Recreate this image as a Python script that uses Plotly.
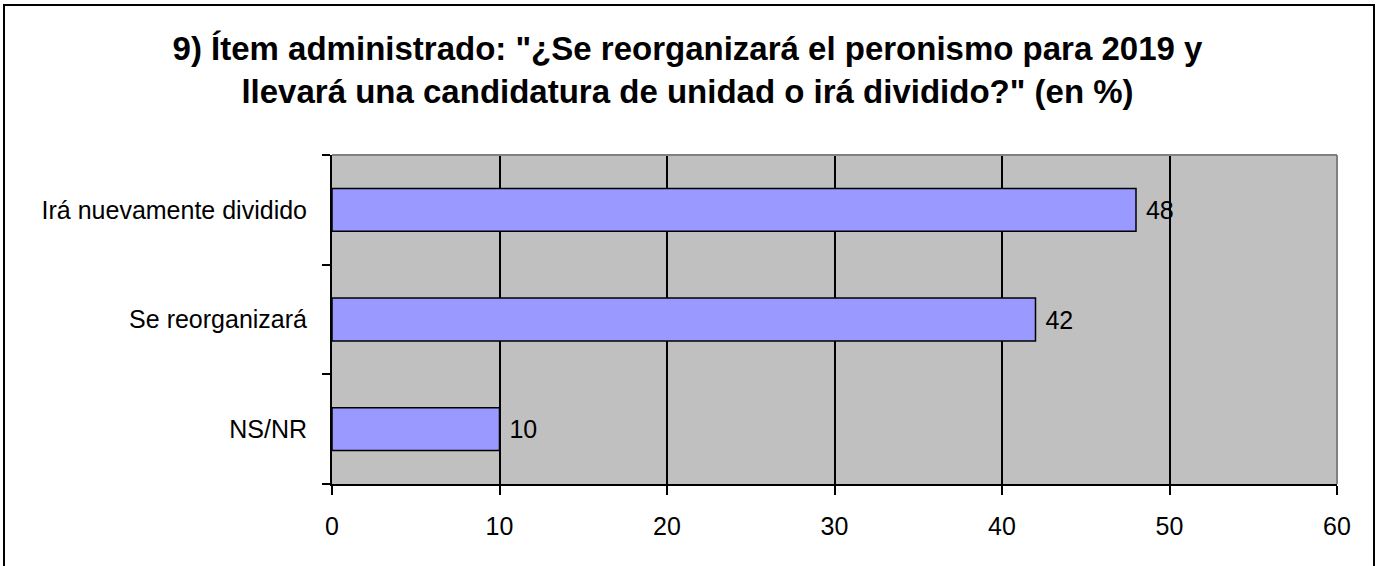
import plotly.graph_objects as go

categories = ["NS/NR", "Se reorganizará", "Irá nuevamente dividido"]
values = [10, 42, 48]
x_ticks = [0, 10, 20, 30, 40, 50, 60]

title_text = ('<b>9) Ítem administrado: "¿Se reorganizará el peronismo para 2019 y<br>'
              'llevará una candidatura de unidad o irá dividido?" (en %)</b>')

W, H = 1381, 566
L, R, T, B = 332, W - 1337, 155, H - 484
pw, ph = W - L - R, H - T - B

def px2paper_x(px):
    return (px - L) / pw

def px2paper_y(py):
    return (H - B - py) / ph

FONT = "Liberation Sans, Arial, sans-serif"

fig = go.Figure()
fig.add_trace(go.Bar(
    x=values, y=categories, orientation="h",
    marker=dict(color="#9999FF", line=dict(color="black", width=1.5)),
    text=[str(v) for v in values], texttemplate=" %{text}", textposition="outside",
    textfont=dict(family=FONT, size=25, color="black"),
    cliponaxis=False,
))

fig.update_layout(
    width=W, height=H,
    margin=dict(l=L, r=R, t=T, b=B),
    paper_bgcolor="white", plot_bgcolor="#C0C0C0",
    bargap=0.61,
    showlegend=False,
    font=dict(family=FONT, size=25, color="black"),
    title=dict(text=title_text, x=687.5 / W, xref="container", xanchor="center",
               y=1 - 60 / H, yref="container", yanchor="middle",
               font=dict(family=FONT, size=33, color="black")),
    xaxis=dict(range=[0, 60], tickvals=x_ticks, ticks="outside", ticklen=9,
               tickcolor="black", tickwidth=1.5, showgrid=True, gridcolor="black",
               gridwidth=1.5, showline=True, linecolor="black", linewidth=2,
               zeroline=False, ticklabelstandoff=10, fixedrange=True),
    yaxis=dict(type="category", categoryorder="array", categoryarray=categories,
               ticks="outside", tickson="boundaries", ticklen=8, tickcolor="black",
               tickwidth=1.5, showline=True, linecolor="black", linewidth=2,
               showgrid=False, ticklabelstandoff=18, fixedrange=True),
)

# gray plot border on top and right
fig.add_shape(type="line", xref="paper", yref="paper", x0=0, x1=1, y0=1, y1=1,
              line=dict(color="#808080", width=2), layer="above")
fig.add_shape(type="line", xref="paper", yref="paper", x0=1, x1=1, y0=0, y1=1,
              line=dict(color="#808080", width=2), layer="above")
# outer chart border
fig.add_shape(type="rect", xref="paper", yref="paper",
              x0=px2paper_x(4), x1=px2paper_x(1374),
              y0=px2paper_y(572), y1=px2paper_y(5),
              line=dict(color="black", width=2), fillcolor="rgba(0,0,0,0)", layer="above")

fig.write_html("out.html", config={"displayModeBar": False},
               post_script="document.body.style.margin='0';document.body.style.overflow='hidden';")
